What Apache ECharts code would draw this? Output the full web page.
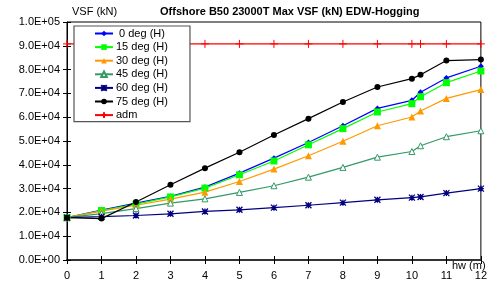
<!DOCTYPE html>
<html>
<head>
<meta charset="utf-8">
<script src="https://cdn.jsdelivr.net/npm/echarts@6/dist/echarts.min.js"></script>
<style>
  html, body { margin: 0; padding: 0; background: #fff; }
  #chart { width: 490px; height: 284px; }
</style>
</head>
<body>
<div id="chart"></div>
<script>
// wave height hw (m)
const hw = [0, 1, 2, 3, 4, 5, 6, 7, 8, 9, 10, 10.25, 11, 12]

// Max VSF (kN) per heading
const deg0  = [17800, 21000, 23900, 26700, 30600, 36500, 42800, 49400, 56400, 63700, 67100, 70500, 76500, 81400]
const deg15 = [17800, 20800, 23500, 26500, 30200, 35800, 41600, 48400, 55200, 62200, 65700, 68600, 74500, 79400]
const deg30 = [17800, 20500, 23000, 25600, 28500, 33000, 38200, 43800, 49900, 56400, 60100, 62600, 67900, 71600]
const deg45 = [17800, 19500, 21600, 23900, 25700, 28400, 31200, 34800, 38900, 43200, 45600, 48000, 51800, 54300]
const deg60 = [17800, 18200, 18700, 19400, 20400, 21100, 22000, 23000, 24100, 25300, 26200, 26500, 28100, 30000]
const deg75 = [17800, 17400, 24400, 31600, 38600, 45300, 52500, 59400, 66400, 72700, 76200, 77800, 83800, 84200]
const adm   = [90800, 90800, 90800, 90800, 90800, 90800, 90800, 90800, 90800, 90800, 90800, 90800, 90800, 90800]

const FONT = 'Liberation Sans, Arial, sans-serif'

const pairs = (ys) => hw.map((x, i) => [x, ys[i]])

// 1.0E+05 style labels
const sci = (v) => {
  if (v === 0) return '0.0E+00'
  const e = Math.floor(Math.log10(v))
  const m = (v / Math.pow(10, e)).toFixed(1)
  return m + 'E+' + String(e).padStart(2, '0')
}

const line = (name, ys, color, symbol, extra) => Object.assign({
  name: name,
  type: 'line',
  data: pairs(ys),
  xAxisIndex: 0,
  yAxisIndex: 0,
  symbol: symbol,
  symbolSize: 6,
  showSymbol: true,
  animation: false,
  lineStyle: { color: color, width: 1.2 },
  itemStyle: { color: color }
}, extra || {})

let chart = echarts.init(document.getElementById('chart'))

let option = {
  animation: false,
  textStyle: { fontFamily: FONT },
  grid: {
    left: 67, right: 3, top: 22, bottom: 24,
    show: true, borderColor: '#000', borderWidth: 1
  },
  graphic: [
    { type: 'text', left: 72, top: 6, style: { text: 'VSF (kN)', font: '11px ' + FONT, fill: '#000' } },
    { type: 'text', left: 160, top: 6, style: { text: 'Offshore B50 23000T Max VSF (kN) EDW-Hogging', font: 'bold 11px ' + FONT, fill: '#000' } },
    { type: 'text', left: 452, top: 260, style: { text: 'hw (m)', font: '11px ' + FONT, fill: '#000' } }
  ],
  legend: {
    orient: 'vertical',
    left: 74, top: 26,
    width: 107,
    padding: [2, 22, 1, 20],
    itemWidth: 18, itemHeight: 7, itemGap: 2.6,
    backgroundColor: '#fff',
    borderColor: '#555', borderWidth: 1.2,
    textStyle: { fontSize: 11, lineHeight: 11, color: '#000', fontFamily: FONT, padding: [0, 0, 0, -2] },
    data: [' 0 deg (H)', '15 deg (H)', '30 deg (H)', '45 deg (H)', '60 deg (H)', '75 deg (H)', 'adm']
  },
  xAxis: [{
    type: 'value', min: 0, max: 12, interval: 1,
    axisLine: { lineStyle: { color: '#333', width: 2 } },
    axisTick: { show: true, length: 4, lineStyle: { color: '#000' } },
    axisLabel: { fontSize: 11, color: '#000', margin: 10, fontFamily: FONT },
    splitLine: { show: false }
  }, {
    type: 'value', min: 0, max: 12, interval: 1, position: 'bottom',
    axisLine: { show: false },
    axisTick: { show: true, inside: true, length: 4, lineStyle: { color: '#000' } },
    axisLabel: { show: false },
    splitLine: { show: false }
  }],
  yAxis: [{
    type: 'value', min: 0, max: 100000, interval: 10000,
    axisLine: { show: true, lineStyle: { color: '#000', width: 1 } },
    axisTick: { show: true, length: 4, lineStyle: { color: '#000' } },
    axisLabel: { fontSize: 11, color: '#000', margin: 7, formatter: sci, fontFamily: FONT },
    splitLine: { show: false }
  }, {
    type: 'value', min: 0, max: 100000, interval: 10000, position: 'left',
    axisLine: { show: false },
    axisTick: { show: true, inside: true, length: 4, lineStyle: { color: '#000' } },
    axisLabel: { show: false },
    splitLine: { show: false }
  }],
  series: [
    line(' 0 deg (H)', deg0, '#0000FF', 'diamond', { symbolSize: 6 }),
    line('15 deg (H)', deg15, '#00FF00', 'rect', { symbolSize: 7 }),
    line('30 deg (H)', deg30, '#FF9900', 'triangle', { symbolSize: 7 }),
    line('45 deg (H)', deg45, '#339966', 'triangle', {
      symbolSize: 6,
      itemStyle: { color: '#fff', borderColor: '#339966', borderWidth: 1 }
    }),
    line('60 deg (H)', deg60, '#000080', 'path://M0,0L10,10M10,0L0,10M5,0L5,10M0,5L10,5', {
      symbolSize: 6,
      itemStyle: { color: '#000080', borderColor: '#000080', borderWidth: 1.3 }
    }),
    line('75 deg (H)', deg75, '#000000', 'circle', { symbolSize: 6 }),
    line('adm', adm, '#FF0000', 'path://M5,0L5,10M0,5L10,5', {
      symbolSize: 8,
      itemStyle: { color: '#FF0000', borderColor: '#FF0000', borderWidth: 1 }
    })
  ]
}

chart.setOption(option)
</script>
</body>
</html>
